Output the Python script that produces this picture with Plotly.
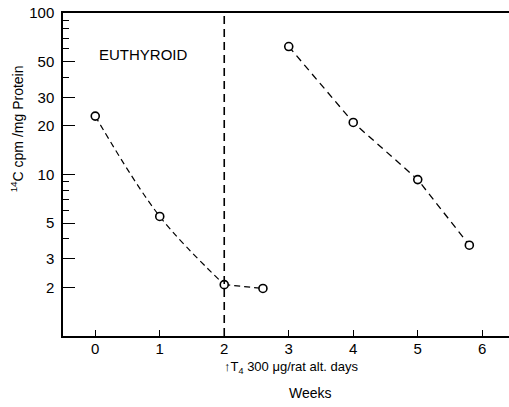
import plotly.graph_objects as go

# Data
weeks_euthyroid = [0, 1, 2, 2.6]
cpm_euthyroid = [23, 5.5, 2.08, 1.97]
weeks_t4 = [3, 4, 5, 5.8]
cpm_t4 = [62, 21, 9.3, 3.65]
t4_start_week = 2

x_ticks = [0, 1, 2, 3, 4, 5, 6]
y_major = [2, 3, 5, 10, 20, 30, 50, 100]
y_minor = [4, 6, 7, 8, 9, 40, 60, 70, 80, 90]

FONT = "Liberation Sans"

fig = go.Figure()

# smooth curve through the first three euthyroid points, then a short straight piece
fig.add_trace(go.Scatter(
    x=weeks_euthyroid[:3], y=cpm_euthyroid[:3], mode="lines",
    line=dict(color="black", width=1.2, dash="6px,4px", shape="spline", smoothing=1.0),
    showlegend=False, hoverinfo="skip"))
fig.add_trace(go.Scatter(
    x=weeks_euthyroid[2:], y=cpm_euthyroid[2:], mode="lines",
    line=dict(color="black", width=1.2, dash="6px,4px"),
    showlegend=False, hoverinfo="skip"))
fig.add_trace(go.Scatter(
    x=weeks_t4, y=cpm_t4, mode="lines",
    line=dict(color="black", width=1.3, dash="7px,5px"),
    showlegend=False, hoverinfo="skip"))
fig.add_trace(go.Scatter(
    x=weeks_euthyroid + weeks_t4, y=cpm_euthyroid + cpm_t4, mode="markers",
    marker=dict(symbol="circle", size=8, color="white",
                line=dict(color="black", width=1.6)),
    showlegend=False))

# vertical dashed line at start of T4 treatment
fig.add_shape(type="line", xref="x", yref="paper",
              x0=t4_start_week, x1=t4_start_week, y0=0, y1=1,
              line=dict(color="black", width=1.6, dash="8px,5px"))

fig.add_annotation(x=0.03, y=1.74, xref="x", yref="y", text="EUTHYROID",
                   showarrow=False, xanchor="left", yanchor="middle",
                   font=dict(family=FONT, size=15, color="black"))
fig.add_annotation(x=1.97, y=-0.097, xref="x", yref="paper",
                   text="↑T<sub>4</sub> 300 μg/rat alt. days",
                   showarrow=False, xanchor="left", yanchor="middle",
                   font=dict(family=FONT, size=13, color="black"))
fig.add_annotation(x=0.555, y=-0.177, xref="paper", yref="paper", text="Weeks",
                   showarrow=False, xanchor="center", yanchor="middle",
                   font=dict(family=FONT, size=14, color="black"))
fig.add_annotation(x=-0.103, y=0.64, xref="paper", yref="paper",
                   text="<sup>14</sup>C cpm /mg Protein", textangle=-90,
                   showarrow=False, xanchor="center", yanchor="middle",
                   font=dict(family=FONT, size=14, color="black"))

fig.update_layout(
    width=509, height=407,
    margin=dict(l=63, r=0, t=13, b=71),
    paper_bgcolor="white", plot_bgcolor="white",
    font=dict(family=FONT, size=15, color="black"),
    xaxis=dict(range=[-0.5, 6.415], tickvals=x_ticks, ticktext=[str(v) for v in x_ticks],
               ticks="inside", ticklen=6, tickwidth=1.2, tickcolor="black",
               tickfont=dict(size=15), ticklabelstandoff=-2,
               showline=True, linecolor="black", linewidth=1.5, mirror=True,
               showgrid=False, zeroline=False, fixedrange=True),
    yaxis=dict(type="log", range=[0, 2], tickvals=y_major,
               ticktext=[str(v) for v in y_major],
               ticks="inside", ticklen=12, tickwidth=1.2, tickcolor="black",
               ticklabelstandoff=4, tickfont=dict(size=15),
               minor=dict(tickvals=y_minor, ticks="inside", ticklen=6,
                          tickwidth=1, tickcolor="black"),
               showline=True, linecolor="black", linewidth=1.5,
               showgrid=False, zeroline=False, fixedrange=True),
)

fig.write_html("out.html")
